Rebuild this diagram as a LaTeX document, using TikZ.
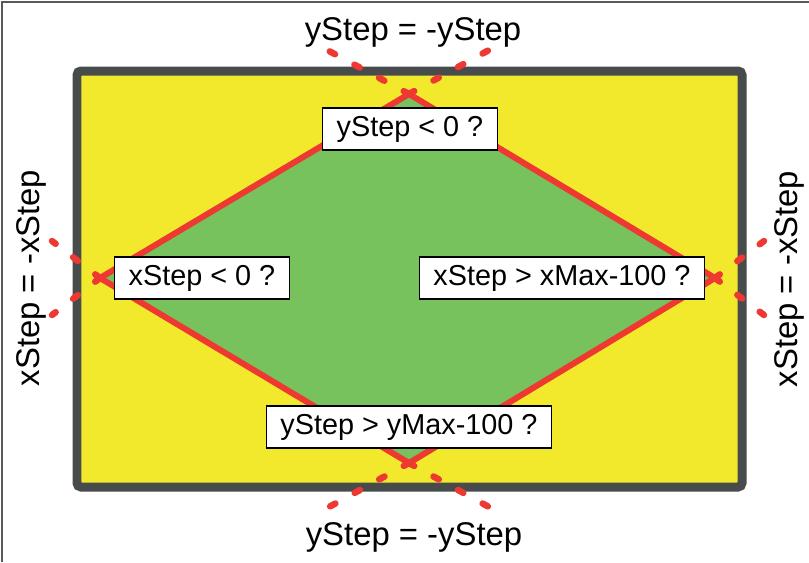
\documentclass[tikz,border=0pt]{standalone}
\usepackage{fontspec}
\setmainfont{Liberation Sans}
\definecolor{framegray}{HTML}{474B4C}
\definecolor{fieldyellow}{HTML}{F3E92C}
\definecolor{zonegreen}{HTML}{77C25C}
\definecolor{bouncered}{HTML}{EE3932}
\tikzset{
    testbox/.style={draw=black,line width=0.8pt,fill=white,inner xsep=0.28cm,minimum height=0.84cm,font=\fontsize{16.4}{19}\selectfont},
    reflect/.style={draw=bouncered,line width=0.13cm,line cap=round,dash pattern=on 0.12cm off 0.44cm},
    rulelabel/.style={font=\fontsize{18.7}{22}\selectfont}
}
\begin{document}
\begin{tikzpicture}[x=0.02cm,y=-0.02cm]
    \useasboundingbox (0,0) rectangle (809,562);
    \draw[gray!70!black,line width=0.04cm] (2,562) -- (2,2) -- (809,2);
    % playing field
    \draw[framegray,fill=fieldyellow,line width=0.18cm,rounded corners=0.08cm] (77,71) rectangle (742,487);
    % diamond of allowed positions
    \coordinate (top) at (409,94);
    \coordinate (right) at (715,278);
    \coordinate (bottom) at (409,463);
    \coordinate (left) at (100,278);
    \draw[bouncered,fill=zonegreen,line width=0.12cm,line join=round] (top) -- (right) -- (bottom) -- (left) -- cycle;
    % reflected paths
    \coordinate (topL) at (329,51);
    \coordinate (topR) at (489,50);
    \coordinate (bottomL) at (329,507);
    \coordinate (bottomR) at (489,507);
    \coordinate (leftU) at (52,241);
    \coordinate (leftD) at (52,315);
    \coordinate (rightU) at (764,241);
    \coordinate (rightD) at (764,315);
    \foreach \v/\e in {top/topL,top/topR,bottom/bottomL,bottom/bottomR,left/leftU,left/leftD,right/rightU,right/rightD}
        \draw[reflect] (\v) -- (\e);
    % tests
    \node[testbox] (testTop) at (410,129) {yStep < 0 ?};
    \node[testbox] (testLeft) at (202,278) {xStep < 0 ?};
    \node[testbox] (testRight) at (562,278) {xStep > xMax-100 ?};
    \node[testbox] (testBottom) at (409,427) {yStep > yMax-100 ?};
    % rules
    \node[rulelabel] (ruleTop) at (413,32) {yStep = -yStep};
    \node[rulelabel] (ruleBottom) at (414,537) {yStep = -yStep};
    \node[rulelabel,rotate=90] (ruleLeft) at (31,278) {xStep = -xStep};
    \node[rulelabel,rotate=90] (ruleRight) at (789,279) {xStep = -xStep};
\end{tikzpicture}
\end{document}
